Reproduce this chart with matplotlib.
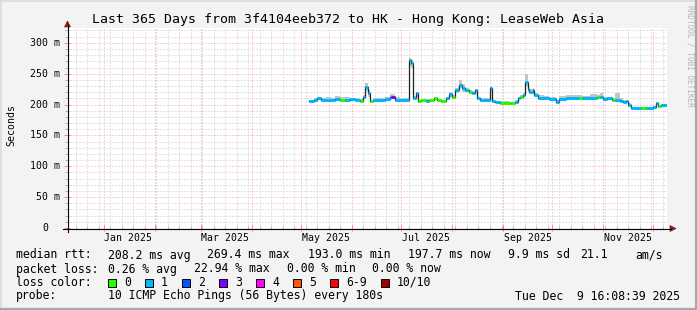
import matplotlib
matplotlib.use("Agg")
import matplotlib.pyplot as plt
import matplotlib.dates as mdates
from matplotlib.ticker import MultipleLocator, NullFormatter
from matplotlib.patches import Rectangle, Polygon
from matplotlib.lines import Line2D
from datetime import datetime, timedelta

# ---------------- data ----------------
title = "Last 365 Days from 3f4104eeb372 to HK - Hong Kong: LeaseWeb Asia"
start_time = "2024-12-09 16:08:39"
end_time = "2025-12-09 16:08:39"

dates = ["2025-05-06", "2025-05-09", "2025-05-11", "2025-05-13", "2025-05-16", "2025-05-19", "2025-05-22", "2025-05-25", "2025-05-28", "2025-05-31",
         "2025-06-03", "2025-06-06", "2025-06-08", "2025-06-09", "2025-06-11", "2025-06-12", "2025-06-14", "2025-06-18", "2025-06-21", "2025-06-24",
         "2025-06-25", "2025-06-27", "2025-06-30", "2025-07-03", "2025-07-06", "2025-07-07", "2025-07-08", "2025-07-10", "2025-07-11", "2025-07-13",
         "2025-07-16", "2025-07-18", "2025-07-21", "2025-07-23", "2025-07-25", "2025-07-28", "2025-07-30", "2025-08-01", "2025-08-03", "2025-08-05",
         "2025-08-07", "2025-08-09", "2025-08-11", "2025-08-13", "2025-08-15", "2025-08-16", "2025-08-18", "2025-08-21", "2025-08-24", "2025-08-25",
         "2025-08-27", "2025-08-30", "2025-09-02", "2025-09-05", "2025-09-08", "2025-09-10", "2025-09-11", "2025-09-13", "2025-09-14", "2025-09-16",
         "2025-09-17", "2025-09-19", "2025-09-20", "2025-09-22", "2025-09-26", "2025-09-29", "2025-10-03", "2025-10-05", "2025-10-09", "2025-10-13",
         "2025-10-17", "2025-10-19", "2025-10-24", "2025-10-28", "2025-10-30", "2025-11-01", "2025-11-03", "2025-11-06", "2025-11-08", "2025-11-11",
         "2025-11-13", "2025-11-15", "2025-11-16", "2025-11-18", "2025-11-24", "2025-11-27", "2025-12-01", "2025-12-03", "2025-12-04", "2025-12-06"]

median = [206, 207, 210, 207, 208, 208, 209, 207, 208, 209,
          208, 206, 212, 229, 218, 205, 208, 207, 209, 213,
          212, 208, 207, 208, 272, 268, 210, 218, 205, 207,
          206, 207, 211, 207, 206, 210, 217, 213, 223, 231,
          226, 223, 221, 219, 223, 210, 208, 207, 227, 205,
          204, 203, 203, 202, 204, 210, 212, 215, 237, 225,
          221, 223, 215, 211, 210, 209, 204, 209, 211, 210,
          211, 210, 211, 212, 213, 209, 210, 207, 207, 206,
          204, 205, 199, 194, 194, 194, 196, 202, 197, 199]

smoke_hi = [208, 210, 213, 210, 213, 211, 214, 213, 212, 211,
            210, 209, 215, 235, 224, 208, 211, 210, 212, 217,
            217, 212, 210, 210, 276, 272, 214, 221, 208, 209,
            209, 209, 213, 209, 208, 213, 221, 216, 226, 240,
            233, 227, 224, 222, 225, 213, 211, 210, 230, 207,
            206, 205, 205, 204, 207, 213, 215, 219, 250, 232,
            225, 226, 219, 215, 214, 213, 207, 214, 215, 215,
            215, 214, 217, 215, 218, 213, 213, 211, 218, 210,
            207, 208, 203, 196, 196, 196, 198, 204, 199, 201]

smoke_lo = [204, 205, 207, 205, 206, 206, 207, 205, 206, 207,
            206, 204, 209, 222, 212, 203, 206, 205, 207, 210,
            209, 206, 205, 206, 262, 260, 207, 212, 203, 205,
            204, 205, 209, 205, 204, 207, 212, 211, 219, 226,
            221, 220, 219, 217, 218, 207, 206, 205, 222, 203,
            202, 201, 201, 200, 202, 207, 210, 212, 230, 220,
            218, 219, 212, 209, 208, 207, 202, 207, 209, 208,
            209, 208, 209, 210, 211, 207, 208, 205, 205, 204,
            202, 203, 196, 192, 192, 192, 194, 199, 195, 197]

loss_bin = [1, 1, 1, 1, 1, 1, 1, 0, 1, 1,
            1, 0, 1, 1, 1, 0, 1, 1, 1, 1,
            3, 1, 1, 1, 1, 1, 1, 1, 0, 0,
            1, 0, 0, 0, 0, 1, 1, 0, 1, 1,
            1, 1, 0, 1, 1, 1, 1, 1, 1, 1,
            1, 0, 0, 0, 1, 1, 0, 1, 1, 1,
            1, 1, 1, 1, 1, 1, 1, 1, 1, 1,
            0, 1, 1, 0, 1, 1, 1, 0, 1, 1,
            1, 1, 1, 1, 0, 1, 1, 1, 0, 1]

loss_labels = ["0", "1", "2", "3", "4", "5", "6-9", "10/10"]
loss_colors = ["#26ff00", "#00b8ff", "#0059ff", "#7e00ff", "#ff00ff", "#ff5500", "#ff0000", "#a10000"]

y_ticks = [0, 50, 100, 150, 200, 250, 300]
y_labels = ["0", "50 m", "100 m", "150 m", "200 m", "250 m", "300 m"]
x_label_dates = ["2025-01-16", "2025-03-16", "2025-05-16", "2025-07-16", "2025-09-16", "2025-11-16"]
x_labels = ["Jan 2025", "Mar 2025", "May 2025", "Jul 2025", "Sep 2025", "Nov 2025"]

stats_rtt = ["208.2 ms avg", "269.4 ms max", "193.0 ms min", "197.7 ms now", "9.9 ms sd", "21.1", "am/s"]
stats_loss = ["0.26 % avg", "22.94 % max", "0.00 % min", "0.00 % now"]
probe_text = "10 ICMP Echo Pings (56 Bytes) every 180s"
stamp_text = "Tue Dec  9 16:08:39 2025"

# ---------------- figure ----------------
W, H = 697, 310
MONO = "DejaVu Sans Mono"
fig = plt.figure(figsize=(W / 100, H / 100), dpi=100, facecolor="#f3f3f3")


def fx(x):
    return x / W


def fy(y):
    return 1 - y / H


ax = fig.add_axes([fx(67), fy(228), 600 / W, 200 / H])
ax.set_facecolor("white")
t0 = datetime.strptime(start_time, "%Y-%m-%d %H:%M:%S")
t1 = datetime.strptime(end_time, "%Y-%m-%d %H:%M:%S")
ax.set_xlim(t0, t1)
ax.set_ylim(0, 324)
for s in ax.spines.values():
    s.set_visible(False)

ax.xaxis.set_major_locator(mdates.MonthLocator())
ax.xaxis.set_minor_locator(mdates.WeekdayLocator(byweekday=mdates.SU))
ax.xaxis.set_major_formatter(NullFormatter())
ax.yaxis.set_major_locator(MultipleLocator(50))
ax.yaxis.set_minor_locator(MultipleLocator(10))
ax.yaxis.set_major_formatter(NullFormatter())
ax.set_axisbelow(True)
ax.grid(which="minor", color="#c8c8c8", lw=0.72, linestyle=(0, (1, 2)))
ax.grid(which="major", color="#ff9a9a", lw=0.72, linestyle=(0, (1, 2)))
ax.tick_params(which="major", direction="inout", length=4, width=0.72, color="#ff8080")
ax.tick_params(which="minor", direction="inout", length=2.5, width=0.72, color="#b0b0b0")

# series
tn = [mdates.date2num(datetime.strptime(d, "%Y-%m-%d")) for d in dates]
edges = tn + [mdates.date2num(t1)]
ax.fill_between(edges, smoke_lo + [smoke_lo[-1]], smoke_hi + [smoke_hi[-1]], step="post",
                color="#c4c4c4", lw=0, zorder=2)
ax.step(edges, median + [median[-1]], where="post", color="#202020", lw=0.9, zorder=3)
ax.hlines(median, edges[:-1], edges[1:], colors=[loss_colors[b] for b in loss_bin],
          lw=2.2, zorder=4, capstyle="butt")

# tick labels
for v, lab in zip(y_ticks, y_labels):
    xr = 60 if " " in lab else 60 - 2 * 5.95
    ax.text((xr - 67) / 600, v, lab, transform=ax.get_yaxis_transform(), ha="right", va="center",
            fontsize=7.1, family=MONO, color="#000000")
for d, lab in zip(x_label_dates, x_labels):
    ax.text(mdates.date2num(datetime.strptime(d, "%Y-%m-%d")), -10 / 200, lab,
            transform=ax.get_xaxis_transform(), ha="center", va="center",
            fontsize=7.1, family=MONO, color="#000000")

# axes lines with arrows
fig.add_artist(Line2D([fx(63), fx(671)], [fy(228.5), fy(228.5)], color="black", lw=0.8))
fig.add_artist(Line2D([fx(67.5), fx(67.5)], [fy(232), fy(25)], color="black", lw=0.8))
fig.add_artist(Polygon([[fx(670), fy(225.5)], [fx(676), fy(228.5)], [fx(670), fy(231.5)]],
                       closed=True, facecolor="#8b1a1a", edgecolor="#8b1a1a", lw=0.5))
fig.add_artist(Polygon([[fx(64.5), fy(27)], [fx(67.5), fy(21)], [fx(70.5), fy(27)]],
                       closed=True, facecolor="#8b1a1a", edgecolor="#8b1a1a", lw=0.5))

# texts
fig.text(fx(348.5), fy(20), title, ha="center", va="center", fontsize=9.55, family=MONO, color="#000000")
fig.text(fx(11), fy(125), "Seconds", rotation=90, ha="center", va="center", fontsize=7.1, family=MONO)
fig.text(fx(690), fy(5), "RRDTOOL / TOBI OETIKER", rotation=270, ha="center", va="top",
         fontsize=5.6, family=MONO, color="#b4b4b4")

LF = 8.32
fig.text(fx(16), fy(255), "median rtt:", ha="left", va="center", fontsize=LF, family=MONO)
for xpos, s in zip([107.6, 207, 307.6, 408, 507.6, 580, 635.6], stats_rtt):
    fig.text(fx(xpos), fy(255), s, ha="left", va="center", fontsize=LF, family=MONO)
fig.text(fx(16), fy(269), "packet loss:", ha="left", va="center", fontsize=LF, family=MONO)
for xpos, s in zip([107.6, 194, 286.7, 372.4], stats_loss):
    fig.text(fx(xpos), fy(269), s, ha="left", va="center", fontsize=LF, family=MONO)
fig.text(fx(16), fy(282), "loss color:", ha="left", va="center", fontsize=LF, family=MONO)
for xpos, lab, col in zip([108, 145, 182, 219, 256, 293, 330, 381], loss_labels, loss_colors):
    fig.add_artist(Rectangle((fx(xpos), fy(286.5)), 8 / W, 8 / H, transform=fig.transFigure,
                             facecolor=col, edgecolor="black", lw=0.7))
    fig.text(fx(xpos + 16), fy(282), lab, ha="left", va="center", fontsize=LF, family=MONO)
fig.text(fx(16), fy(296), "probe:", ha="left", va="center", fontsize=LF, family=MONO)
fig.text(fx(107.6), fy(296), probe_text, ha="left", va="center", fontsize=LF, family=MONO)
fig.text(fx(680), fy(296), stamp_text, ha="right", va="center", fontsize=LF, family=MONO)

# 3D border
fig.add_artist(Line2D([0, 1], [fy(0.75), fy(0.75)], color="#d8d8d8", lw=1.1))
fig.add_artist(Line2D([fx(0.75), fx(0.75)], [0, 1], color="#d8d8d8", lw=1.1))
fig.add_artist(Line2D([0, 1], [fy(308.75), fy(308.75)], color="#a8a8a8", lw=1.6))
fig.add_artist(Line2D([fx(695.75), fx(695.75)], [0, 1], color="#a8a8a8", lw=1.6))

fig.savefig("out.png", dpi=100, facecolor=fig.get_facecolor())
